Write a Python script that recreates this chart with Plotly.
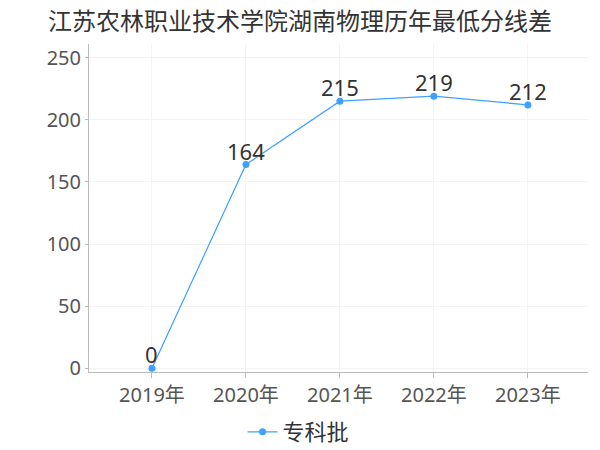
import plotly.graph_objects as go

years = ["2019年", "2020年", "2021年", "2022年", "2023年"]
values = [0, 164, 215, 219, 212]
series_name = "专科批"
title = "江苏农林职业技术学院湖南物理历年最低分线差"

font_family = "Noto Sans, Noto Sans CJK SC, sans-serif"
cjk_family = "Noto Sans CJK SC, Noto Sans, sans-serif"
xs = list(range(len(years)))

fig = go.Figure()
fig.add_trace(go.Scatter(
    x=xs, y=values, name=series_name,
    mode="lines+markers",
    line=dict(color="#3fa0ff", width=1.2),
    marker=dict(color="#3fa0ff", size=7),
))
for xv, v in zip(xs, values):
    fig.add_annotation(x=xv, y=v, text=str(v), showarrow=False,
                       xanchor="center", yanchor="bottom", yshift=-3,
                       font=dict(size=22, color="#333333", family=font_family))

fig.update_layout(
    width=600, height=450,
    margin=dict(l=89, r=12, t=44, b=78, autoexpand=False),
    paper_bgcolor="white", plot_bgcolor="white",
    title=dict(text=title, x=0.5, xanchor="center", y=0.952, yanchor="middle",
               font=dict(size=24, color="#333333", family=cjk_family)),
    showlegend=True,
    legend=dict(orientation="h", x=0.42, xanchor="center", yref="container",
                y=0.04, yanchor="middle", itemwidth=30,
                font=dict(size=22, color="#333333", family=cjk_family)),
    font=dict(family=font_family),
)
fig.update_xaxes(
    tickmode="array", tickvals=xs, ticktext=years,
    range=[-0.67, 4.64], automargin=False,
    showgrid=True, gridcolor="#f3f3f3",
    showline=True, linecolor="#bbbbbb",
    ticks="outside", ticklen=5, tickcolor="#bbbbbb",
    tickfont=dict(size=20, color="#555555", family=font_family),
    zeroline=False,
)
fig.update_yaxes(
    range=[-3, 261], tickvals=[0, 50, 100, 150, 200, 250], automargin=False,
    showgrid=True, gridcolor="#f3f3f3",
    showline=True, linecolor="#bbbbbb",
    ticks="outside", ticklen=3, tickcolor="#bbbbbb",
    tickfont=dict(size=20, color="#555555", family=font_family),
    zeroline=False,
)

fig.write_html("out.html", config={"displayModeBar": False},
               post_script="document.body.style.margin='0';document.body.style.overflow='hidden';")
